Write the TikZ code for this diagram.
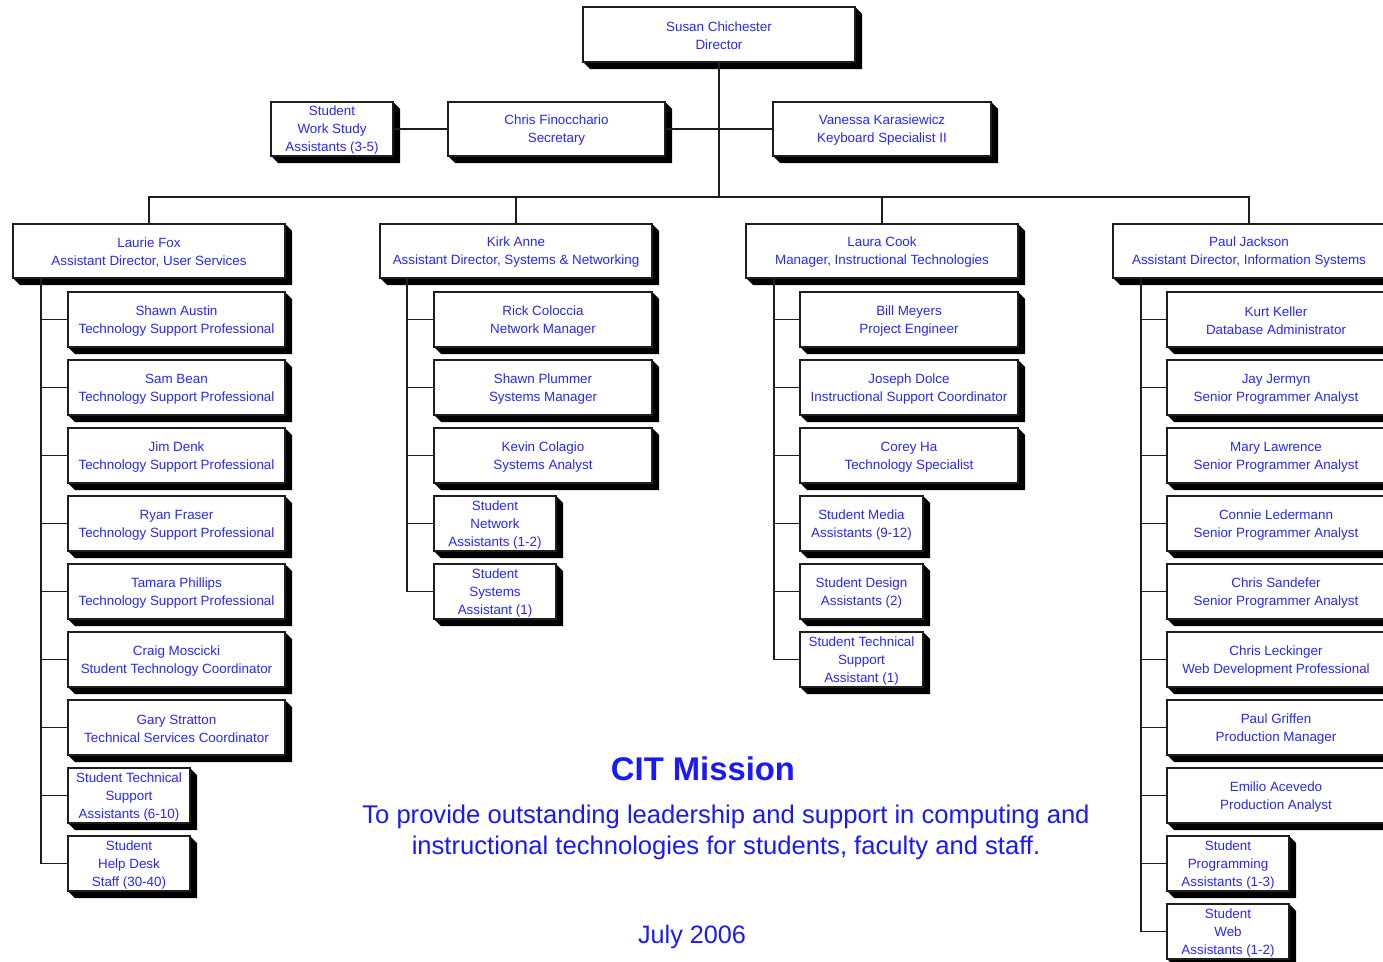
\documentclass[tikz,border=0pt]{standalone}
\usepackage{fontspec}
\setmainfont{Liberation Sans}
\definecolor{txt}{RGB}{40,40,250}
\definecolor{mis}{RGB}{25,25,250}
\definecolor{ln}{RGB}{30,30,30}
\tikzset{
  orgnode/.style={draw=ln, line width=1.15pt, fill=white, inner sep=0pt, outer sep=0pt},
  boxtext/.style={inner sep=0pt, align=center, text=txt, font=\fontsize{13.4}{18}\selectfont},
  conn/.style={draw=ln, line width=1.2pt},
  shadowfill/.style={fill=black}
}
\newcommand\orgbox[6]{%
  \fill[shadowfill] (#4,#3) -- ({#4+7},{#3+7}) -- ({#4+7},{#5+7}) -- ({#2+7},{#5+7}) -- (#2,#5) -- cycle;
  \node[orgnode, minimum width={(#4-#2)*1pt}, minimum height={(#5-#3)*1pt}] (#1) at ({(#2+#4)/2},{(#3+#5)/2}) {};%
  \node[boxtext] (#1-t) at ([yshift=-1.5pt]#1.center) {#6};%
}
\begin{document}
\begin{tikzpicture}[x=1pt,y=-1pt]
\useasboundingbox (0,0) rectangle (1383,961);
\fill[white] (0,0) rectangle (1383,961);
\coordinate (busy) at (0,197);

% top
\orgbox{dir}{583}{7}{855}{62}{Susan Chichester\\Director}
\orgbox{sws}{271}{102}{393}{156}{Student\\Work Study\\Assistants (3-5)}
\orgbox{sec}{448}{102}{665}{156}{Chris Finocchario\\Secretary}
\orgbox{key}{773}{102}{991}{156}{Vanessa Karasiewicz\\Keyboard Specialist II}

\orgbox{laurie}{13}{224}{285}{278}{Laurie Fox\\Assistant Director, User Services}
\orgbox{kirk}{380}{224}{652}{278}{Kirk Anne\\Assistant Director, Systems \& Networking}
\orgbox{laura}{746}{224}{1018}{278}{Laura Cook\\Manager, Instructional Technologies}
\orgbox{paul}{1113}{224}{1385}{278}{Paul Jackson\\Assistant Director, Information Systems}

% Laurie's group
\orgbox{lf1}{68}{292}{285}{347}{Shawn Austin\\Technology Support Professional}
\orgbox{lf2}{68}{360}{285}{415}{Sam Bean\\Technology Support Professional}
\orgbox{lf3}{68}{428}{285}{483}{Jim Denk\\Technology Support Professional}
\orgbox{lf4}{68}{496}{285}{551}{Ryan Fraser\\Technology Support Professional}
\orgbox{lf5}{68}{564}{285}{619}{Tamara Phillips\\Technology Support Professional}
\orgbox{lf6}{68}{632}{285}{687}{Craig Moscicki\\Student Technology Coordinator}
\orgbox{lf7}{68}{700}{285}{755}{Gary Stratton\\Technical Services Coordinator}
\orgbox{lf8}{68}{768}{190}{823}{Student Technical\\Support\\Assistants (6-10)}
\orgbox{lf9}{68}{836}{190}{891}{Student\\Help Desk\\Staff (30-40)}

% Kirk's group
\orgbox{ka1}{434}{292}{652}{347}{Rick Coloccia\\Network Manager}
\orgbox{ka2}{434}{360}{652}{415}{Shawn Plummer\\Systems Manager}
\orgbox{ka3}{434}{428}{652}{483}{Kevin Colagio\\Systems Analyst}
\orgbox{ka4}{434}{496}{556}{551}{Student\\Network\\Assistants (1-2)}
\orgbox{ka5}{434}{564}{556}{619}{Student\\Systems\\Assistant (1)}

% Laura's group
\orgbox{lc1}{800}{292}{1018}{347}{Bill Meyers\\Project Engineer}
\orgbox{lc2}{800}{360}{1018}{415}{Joseph Dolce\\Instructional Support Coordinator}
\orgbox{lc3}{800}{428}{1018}{483}{Corey Ha\\Technology Specialist}
\orgbox{lc4}{800}{496}{923}{551}{Student Media\\Assistants (9-12)}
\orgbox{lc5}{800}{564}{923}{619}{Student Design\\Assistants (2)}
\orgbox{lc6}{800}{632}{923}{687}{Student Technical\\Support\\Assistant (1)}

% Paul's group
\orgbox{pj1}{1167}{292}{1385}{347}{Kurt Keller\\Database Administrator}
\orgbox{pj2}{1167}{360}{1385}{415}{Jay Jermyn\\Senior Programmer Analyst}
\orgbox{pj3}{1167}{428}{1385}{483}{Mary Lawrence\\Senior Programmer Analyst}
\orgbox{pj4}{1167}{496}{1385}{551}{Connie Ledermann\\Senior Programmer Analyst}
\orgbox{pj5}{1167}{564}{1385}{619}{Chris Sandefer\\Senior Programmer Analyst}
\orgbox{pj6}{1167}{632}{1385}{687}{Chris Leckinger\\Web Development Professional}
\orgbox{pj7}{1167}{700}{1385}{755}{Paul Griffen\\Production Manager}
\orgbox{pj8}{1167}{768}{1385}{823}{Emilio Acevedo\\Production Analyst}
\orgbox{pj9}{1167}{836}{1289}{891}{Student\\Programming\\Assistants (1-3)}
\orgbox{pj10}{1167}{904}{1289}{959}{Student\\Web\\Assistants (1-2)}

% connectors
\draw[conn] (dir.south) -- (dir.south |- busy);
\draw[conn] (sws.east) -- (sec.west);
\draw[conn] (sec.east) -- (key.west);
\draw[conn] (laurie.north) -- (laurie.north |- busy) -- (paul.north |- busy) -- (paul.north);
\draw[conn] (kirk.north) -- (kirk.north |- busy);
\draw[conn] (laura.north) -- (laura.north |- busy);

\foreach \c in {lf1,lf2,lf3,lf4,lf5,lf6,lf7,lf8,lf9}
  \draw[conn] ([xshift=28pt]laurie.south west) |- (\c.west);
\foreach \c in {ka1,ka2,ka3,ka4,ka5}
  \draw[conn] ([xshift=27pt]kirk.south west) |- (\c.west);
\foreach \c in {lc1,lc2,lc3,lc4,lc5,lc6}
  \draw[conn] ([xshift=28pt]laura.south west) |- (\c.west);
\foreach \c in {pj1,pj2,pj3,pj4,pj5,pj6,pj7,pj8,pj9,pj10}
  \draw[conn] ([xshift=28pt]paul.south west) |- (\c.west);

% mission
\node[anchor=base, text=mis, font=\fontsize{32.8}{36}\selectfont\bfseries] (mtitle) at (703,780) {CIT Mission};
\node[anchor=base, text=mis, font=\fontsize{25.6}{31}\selectfont] (mline1) at (726,823) {To provide outstanding leadership and support in computing and};
\node[anchor=base, text=mis, font=\fontsize{25.6}{31}\selectfont] (mline2) at (726,854) {instructional technologies for students, faculty and staff.};
\node[anchor=base, text=mis, font=\fontsize{25.2}{31}\selectfont] (date) at (692,943) {July 2006};
\end{tikzpicture}
\end{document}
